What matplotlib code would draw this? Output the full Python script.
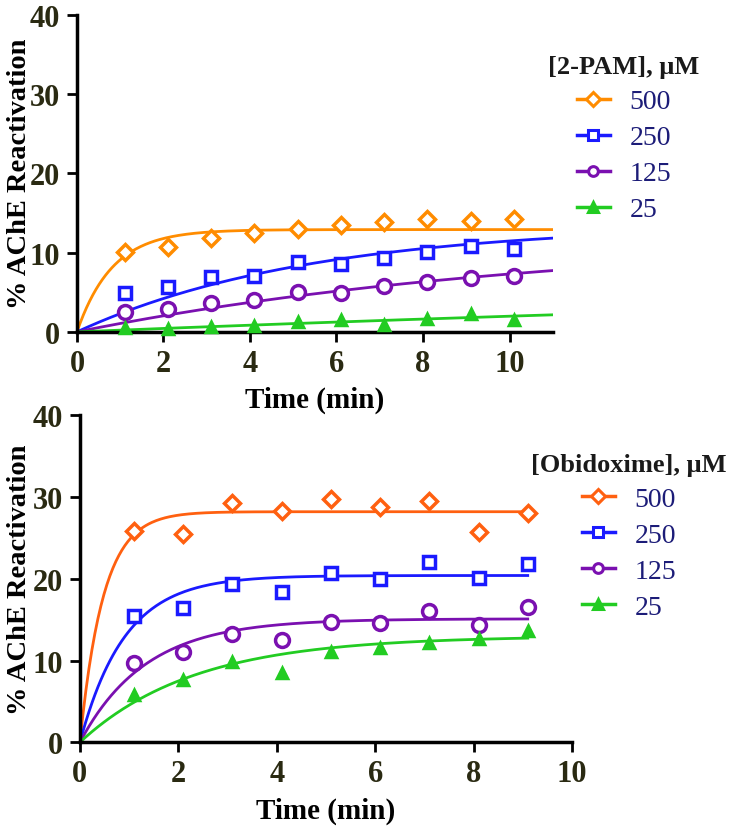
import matplotlib.pyplot as plt
import numpy as np
from matplotlib.lines import Line2D

plt.rcParams['font.family'] = ['Liberation Serif', 'DejaVu Serif']

# 2-PAM panel
t_pam = [1.1, 2.1, 3.1, 4.1, 5.1, 6.1, 7.1, 8.1, 9.1, 10.1]
pam_500 = [10.1, 10.7, 11.8, 12.5, 13.0, 13.5, 13.9, 14.2, 14.0, 14.2]
pam_250 = [4.9, 5.6, 6.9, 7.0, 8.8, 8.5, 9.3, 10.1, 10.8, 10.5]
pam_125 = [2.5, 2.9, 3.6, 4.0, 5.0, 4.9, 5.8, 6.3, 6.8, 7.1]
pam_25 = [0.5, 0.4, 0.6, 0.7, 1.2, 1.5, 0.9, 1.6, 2.3, 1.5]
# fitted one-phase association: plateau, k (per min)
pam_fit = [(12.9, 1.22), (13.6, 0.185), (12.3, 0.09), (10.0, 0.022)]

# Obidoxime panel
t_obi = [1.1, 2.1, 3.1, 4.1, 5.1, 6.1, 7.1, 8.1, 9.1]
obi_500 = [25.8, 25.5, 29.3, 28.3, 29.7, 28.8, 29.5, 25.7, 28.1]
obi_250 = [15.5, 16.4, 19.3, 18.4, 20.7, 20.0, 22.1, 20.1, 21.8]
obi_125 = [9.7, 11.0, 13.2, 12.5, 14.7, 14.6, 16.0, 14.3, 16.6]
obi_25 = [5.8, 7.6, 9.8, 8.5, 11.1, 11.5, 12.1, 12.6, 13.6]
obi_fit = [(28.2, 2.1), (20.4, 1.1), (15.1, 0.75), (13.0, 0.43)]

labels = ['500', '250', '125', '25']
markers = ['D', 's', 'o', '^']
msizes = [8, 9, 10, 7]
pam_colors = ['#ff8c00', '#1a1aff', '#7a10b0', '#22cc22']
obi_colors = ['#ff6010', '#1a1aff', '#7a10b0', '#22cc22']
tick_color = '#2a2a12'

fig = plt.figure(figsize=(7.4, 8.28), dpi=100)
ax1 = fig.add_axes([0.104, 0.598, 0.643, 0.383])
ax2 = fig.add_axes([0.108, 0.1023, 0.665, 0.395])


def panel(ax, t, series, fits, colors, xmax, xend, title, leg_xy, ylab_x):
    tt = np.linspace(0, xend, 300)
    handles = []
    for ys, (top, k), c, m, ms, lab in zip(series, fits, colors, markers, msizes, labels):
        ax.plot(tt, top * (1 - np.exp(-k * tt)), color=c, lw=2, zorder=2)
        filled = m == '^'
        ax.plot(t, ys, ls='none', marker=m, ms=ms, mew=2.5, mec=c,
                mfc=c if filled else 'white', zorder=3, clip_on=False)
        handles.append(Line2D([], [], color=c, lw=2.5, marker=m, ms=7, mew=2.2,
                              mec=c, mfc=c if filled else 'white'))
    ax.set_xlim(0, xmax)
    ax.set_ylim(0, 40)
    ax.set_xticks(range(0, xmax + 1, 2))
    ax.set_yticks([0, 10, 20, 30, 40])
    for s in ['top', 'right']:
        ax.spines[s].set_visible(False)
    for s in ['left', 'bottom']:
        ax.spines[s].set_linewidth(2.5)
    ax.tick_params(width=2, length=7, labelsize=22, labelcolor=tick_color, pad=5)
    for lb in ax.get_xticklabels() + ax.get_yticklabels():
        lb.set_fontweight('bold')
    ax.set_xlabel('Time (min)', fontsize=21, fontweight='bold', labelpad=6)
    ax.set_ylabel('% AChE Reactivation', fontsize=20.5, fontweight='bold')
    ax.yaxis.set_label_coords(ylab_x, 0.5)
    leg = fig.legend(handles, labels, loc='upper center', bbox_to_anchor=leg_xy,
                     frameon=False, fontsize=20, labelcolor='#1c1c78',
                     handlelength=1.2, handletextpad=0.7, labelspacing=0.38,
                     title=title, title_fontproperties={'weight': 'bold', 'size': 19})
    leg.get_title().set_color('#1a1a1a')


panel(ax1, t_pam, [pam_500, pam_250, pam_125, pam_25], pam_fit, pam_colors,
      11, 11, '[2-PAM], μM', (0.843, 0.962), -0.094)
panel(ax2, t_obi, [obi_500, obi_250, obi_125, obi_25], obi_fit, obi_colors,
      10, 9.1, '[Obidoxime], μM', (0.85, 0.482), -0.097)

fig.savefig('out.png', dpi=100)
